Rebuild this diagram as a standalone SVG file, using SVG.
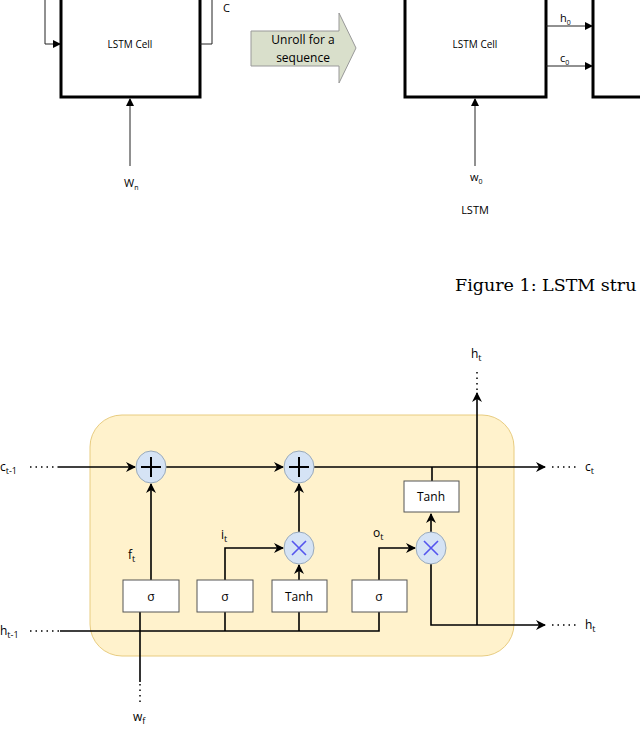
<svg xmlns="http://www.w3.org/2000/svg" width="640" height="730" viewBox="0 0 640 730">
<style>
.t{font-family:"Open Sans","Liberation Sans",sans-serif;fill:#000}
.ln{stroke:#000;stroke-width:1.6;fill:none}
.thin{stroke:#222;stroke-width:1;fill:none}
.dot{stroke:#000;stroke-width:1.5;stroke-dasharray:1.5 4;fill:none}
.box{fill:#fff;stroke:#555;stroke-width:1}
.op{fill:#d5e3f5;stroke:#9ab;stroke-width:1}
</style>
<defs>
<marker id="a" markerWidth="10" markerHeight="10" refX="9" refY="5" orient="auto" markerUnits="userSpaceOnUse"><path d="M0,0 L10,5 L0,10 L3,5 z" fill="#000"/></marker>
<marker id="s" markerWidth="8" markerHeight="8" refX="7" refY="4" orient="auto" markerUnits="userSpaceOnUse"><path d="M0,0 L8,4 L0,8 z" fill="#000"/></marker>
</defs>
<g id="top-left">
<rect x="61" y="-10" width="139" height="107" fill="#fff" stroke="#000" stroke-width="3"/>
<text class="t" x="130" y="48" font-size="10" text-anchor="middle">LSTM Cell</text>
<text class="t" x="223" y="12" font-size="11">C</text>
<text class="t" x="124" y="187" font-size="11">W<tspan font-size="7" dy="3">n</tspan></text>
</g>
<g id="unroll">
<path d="M251,31 L339,31 L339,13 L356,48 L339,83 L339,66 L251,66 z" fill="#d9dfcb" stroke="#999" stroke-width="1"/>
<text class="t" x="303" y="44" font-size="12" text-anchor="middle">Unroll for a</text>
<text class="t" x="303" y="62" font-size="12" text-anchor="middle">sequence</text>
</g>
<g id="top-right">
<rect x="405" y="-10" width="141" height="107" fill="#fff" stroke="#000" stroke-width="3"/>
<text class="t" x="475" y="48" font-size="10" text-anchor="middle">LSTM Cell</text>
<rect x="593" y="-10" width="60" height="107" fill="#fff" stroke="#000" stroke-width="3"/>
<text class="t" x="560" y="22" font-size="11">h<tspan font-size="7" dy="3">0</tspan></text>
<text class="t" x="560" y="62" font-size="11">c<tspan font-size="7" dy="3">0</tspan></text>
<text class="t" x="470" y="181" font-size="11">w<tspan font-size="7" dy="3">0</tspan></text>
<text class="t" x="475" y="214" font-size="11" text-anchor="middle">LSTM</text>
<text x="455" y="291" font-size="17.5" font-family="'DejaVu Serif','Liberation Serif',serif">Figure 1:  LSTM stru</text>
</g>
<g id="top-connectors">
<polyline class="thin" points="45,-5 45,44 60,44" marker-end="url(#s)"/>
<polyline class="thin" points="200,44 212,44 212,-5"/>
<line class="thin" x1="130" y1="166" x2="130" y2="99" marker-end="url(#s)"/>
<line class="thin" x1="475" y1="166" x2="475" y2="99" marker-end="url(#s)"/>
<line class="thin" x1="546" y1="26" x2="592" y2="26" marker-end="url(#s)"/>
<line class="thin" x1="546" y1="66" x2="592" y2="66" marker-end="url(#s)"/>
</g>
<g id="cell"><rect x="90" y="415" width="424" height="241" rx="32" fill="#fff2cc" stroke="#e8cc80" stroke-width="1"/></g>
<g id="connectors">
<line class="dot" x1="30" y1="467" x2="58" y2="467"/>
<line class="ln" x1="58" y1="467" x2="135" y2="467" marker-end="url(#a)"/>
<line class="ln" x1="166" y1="467" x2="283" y2="467" marker-end="url(#a)"/>
<line class="ln" x1="314" y1="467" x2="545" y2="467" marker-end="url(#a)"/>
<line class="dot" x1="552" y1="467" x2="578" y2="467"/>
<line class="dot" x1="30" y1="631" x2="60" y2="631"/>
<polyline class="ln" points="60,631 379,631 379,612"/>
<line class="ln" x1="225" y1="631" x2="225" y2="612"/>
<line class="ln" x1="299" y1="631" x2="299" y2="612"/>
<line class="ln" x1="151" y1="580" x2="151" y2="484" marker-end="url(#a)"/>
<polyline class="ln" points="225,580 225,548 283,548" marker-end="url(#a)"/>
<line class="ln" x1="299" y1="580" x2="299" y2="565" marker-end="url(#a)"/>
<line class="ln" x1="299" y1="532" x2="299" y2="484" marker-end="url(#a)"/>
<polyline class="ln" points="379,580 379,548 415,548" marker-end="url(#a)"/>
<line class="ln" x1="432" y1="467" x2="432" y2="481"/>
<line class="ln" x1="431" y1="532" x2="431" y2="514" marker-end="url(#a)"/>
<polyline class="ln" points="431,564 431,625 545,625" marker-end="url(#a)"/>
<line class="dot" x1="552" y1="625" x2="578" y2="625"/>
<line class="ln" x1="477" y1="625" x2="477" y2="393" marker-end="url(#a)"/>
<line class="dot" x1="477" y1="390" x2="477" y2="368"/>
<line class="ln" x1="140" y1="612" x2="140" y2="682"/>
<line class="dot" x1="140" y1="684" x2="140" y2="706"/>
</g>
<g id="plus1"><ellipse class="op" cx="151" cy="467" rx="15" ry="16"/><path d="M141,467 H161 M151,457 V477" stroke="#000" stroke-width="2"/></g>
<g id="plus2"><ellipse class="op" cx="299" cy="467" rx="15" ry="16"/><path d="M289,467 H309 M299,457 V477" stroke="#000" stroke-width="2"/></g>
<g id="mul1"><ellipse class="op" cx="299" cy="548" rx="15" ry="16"/><path d="M292,541 L306,555 M306,541 L292,555" stroke="#55e" stroke-width="1.6"/></g>
<g id="mul2"><ellipse class="op" cx="431" cy="548" rx="15" ry="16"/><path d="M424,541 L438,555 M438,541 L424,555" stroke="#55e" stroke-width="1.6"/></g>
<g id="sig1"><rect class="box" x="123" y="580" width="56" height="32"/><text class="t" x="151" y="601" font-size="12" text-anchor="middle">σ</text></g>
<g id="sig2"><rect class="box" x="197" y="580" width="56" height="32"/><text class="t" x="225" y="601" font-size="12" text-anchor="middle">σ</text></g>
<g id="tanh1"><rect class="box" x="272" y="580" width="55" height="32"/><text class="t" x="299" y="601" font-size="12" text-anchor="middle">Tanh</text></g>
<g id="sig3"><rect class="box" x="352" y="580" width="55" height="32"/><text class="t" x="379" y="601" font-size="12" text-anchor="middle">σ</text></g>
<g id="tanh2"><rect class="box" x="404" y="481" width="55" height="31"/><text class="t" x="431" y="501" font-size="12" text-anchor="middle">Tanh</text></g>
<g id="labels" class="t" font-size="12">
<text x="0" y="471">c<tspan font-size="9" dy="3">t-1</tspan></text>
<text x="0" y="635">h<tspan font-size="9" dy="3">t-1</tspan></text>
<text x="585" y="471">c<tspan font-size="9" dy="3">t</tspan></text>
<text x="585" y="629">h<tspan font-size="9" dy="3">t</tspan></text>
<text x="471" y="358">h<tspan font-size="9" dy="3">t</tspan></text>
<text x="133" y="721">w<tspan font-size="9" dy="3">f</tspan></text>
<text x="128" y="559">f<tspan font-size="9" dy="3">t</tspan></text>
<text x="221" y="539">i<tspan font-size="9" dy="3">t</tspan></text>
<text x="373" y="537">o<tspan font-size="9" dy="3">t</tspan></text>
</g>
</svg>
